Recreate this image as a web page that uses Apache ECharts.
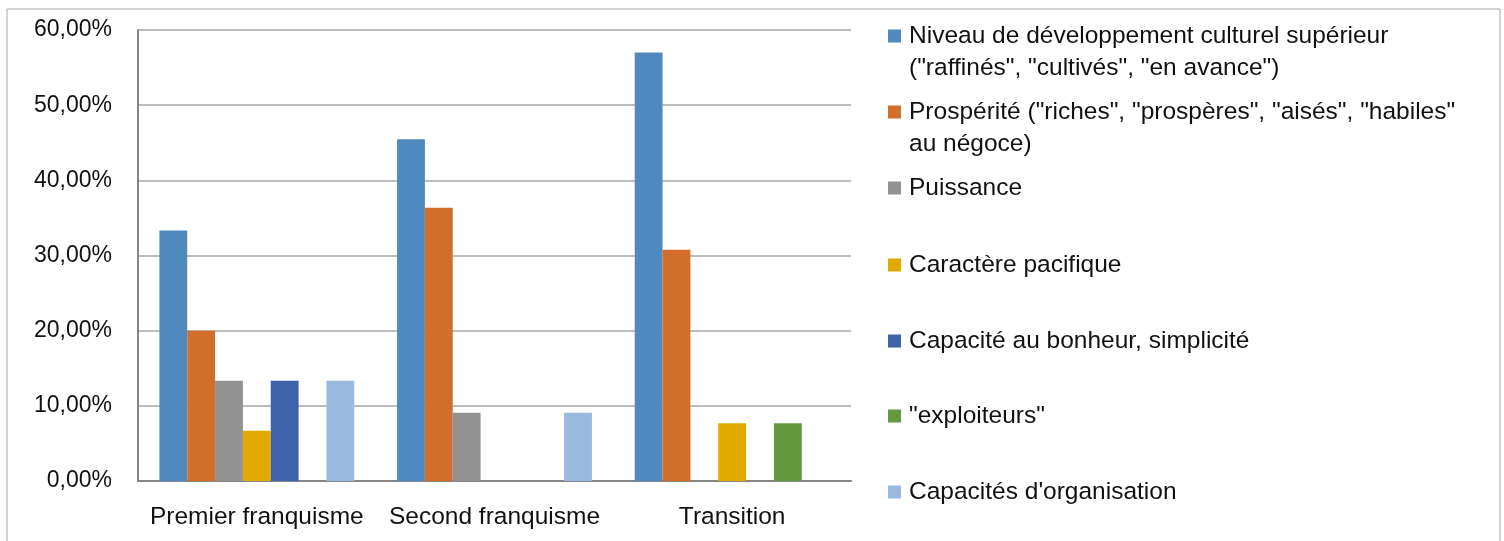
<!DOCTYPE html>
<html>
<head>
<meta charset="utf-8">
<script src="https://cdn.jsdelivr.net/npm/echarts@6/dist/echarts.min.js"></script>
<style>
    html, body { margin: 0; padding: 0; background: #fff; }
    #chart { width: 1504px; height: 541px; }
</style>
</head>
<body>
<div id="chart"></div>
<script>
// catégories (périodes)
const categories = ['Premier franquisme', 'Second franquisme', 'Transition']

// séries : noms + valeurs (%)
const seriesNames = [
    'Niveau de développement culturel supérieur ("raffinés", "cultivés", "en avance")',
    'Prospérité ("riches", "prospères", "aisés", "habiles" au négoce)',
    'Puissance',
    'Caractère pacifique',
    'Capacité au bonheur, simplicité',
    '"exploiteurs"',
    "Capacités d'organisation"
]
const culturel = [33.33, 45.45, 57.0]
const prosperite = [20.0, 36.36, 30.77]
const puissance = [13.33, 9.09, 0]
const pacifique = [6.67, 0, 7.69]
const bonheur = [13.33, 0, 0]
const exploiteurs = [0, 0, 7.69]
const organisation = [13.33, 9.09, 0]

const yTicks = [0, 10, 20, 30, 40, 50, 60]

const seriesValues = [culturel, prosperite, puissance, pacifique, bonheur, exploiteurs, organisation]
const colors = ['#4f89bd', '#d26e2b', '#929292', '#e2a900', '#3d63ab', '#639a3f', '#99b9df']

// légende sur deux lignes pour les libellés longs
const legendLabels = [
    'Niveau de développement culturel supérieur\n("raffinés", "cultivés", "en avance")',
    'Prospérité ("riches", "prospères", "aisés", "habiles"\nau négoce)',
    'Puissance',
    'Caractère pacifique',
    'Capacité au bonheur, simplicité',
    '"exploiteurs"',
    "Capacités d'organisation"
]
const legendCenters = [36, 112, 188, 265, 341, 416, 492]

const font = 'Liberation Sans'
const textColor = '#111'

const chart = echarts.init(document.getElementById('chart'))

// une légende par entrée : le carré reste aligné sur la 1re ligne
const legends = seriesNames.map((name, i) => {
    const twoLines = legendLabels[i].indexOf('\n') >= 0
    return {
        orient: 'vertical',
        left: 888,
        top: legendCenters[i] - (twoLines ? 48 : 16),
        padding: 0,
        itemGap: 0,
        itemWidth: 13,
        itemHeight: 13,
        icon: 'rect',
        data: [name],
        // ligne vide en tête pour centrer le carré sur la première ligne
        formatter: () => (twoLines ? '\n' : '') + legendLabels[i],
        textStyle: {
            fontFamily: font,
            fontSize: 24.5,
            lineHeight: 32,
            color: textColor,
            padding: [0, 0, 0, 3]
        }
    }
})

chart.setOption({
    animation: false,
    color: colors,
    graphic: [{
        type: 'rect',
        shape: { x: 7, y: 9, width: 1493, height: 560 },
        style: { fill: 'none', stroke: '#a6a6a6', lineWidth: 1 },
        silent: true
    }],
    legend: legends,
    grid: {
        left: 138,
        right: 653,
        top: 30,
        bottom: 60
    },
    xAxis: {
        type: 'category',
        data: categories,
        axisLine: { show: true, lineStyle: { color: '#868686', width: 2 } },
        axisTick: { show: false },
        axisLabel: {
            interval: 0,
            fontFamily: font,
            fontSize: 24.5,
            color: textColor,
            margin: 24
        }
    },
    yAxis: {
        type: 'value',
        min: yTicks[0],
        max: yTicks[yTicks.length - 1],
        interval: 10,
        axisLine: { show: true, lineStyle: { color: '#868686', width: 2 } },
        axisTick: { show: false },
        splitLine: { lineStyle: { color: '#a6a6a6', width: 1.5 } },
        axisLabel: {
            fontFamily: font,
            fontSize: 23,
            color: textColor,
            margin: 26,
            formatter: v => v.toFixed(2).replace('.', ',') + '%'
        }
    },
    series: seriesNames.map((name, i) => ({
        name: name,
        type: 'bar',
        data: seriesValues[i],
        barGap: '0%',
        barCategoryGap: '18%',
        itemStyle: { color: colors[i] }
    }))
})
</script>
</body>
</html>
